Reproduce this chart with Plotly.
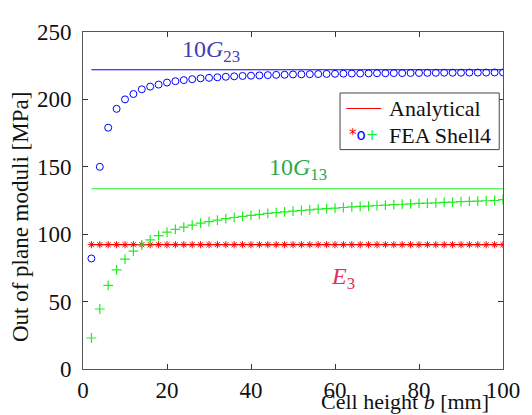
import plotly.graph_objects as go

# Cell height b [mm]
b_mm = list(range(2, 101, 2))

# FEA Shell4 results [MPa]
fea_10G23 = [82, 150, 179, 193, 200, 204, 207.5, 209.5, 211, 212.5,
             213.5, 214.3, 215, 215.6, 216, 216.4, 216.8, 217.1, 217.4, 217.6,
             217.8, 218, 218.2, 218.3, 218.5, 218.6, 218.7, 218.8, 218.9, 219,
             219.1, 219.2, 219.2, 219.3, 219.4, 219.4, 219.5, 219.5, 219.6, 219.6,
             219.7, 219.7, 219.8, 219.8, 219.8, 219.9, 219.9, 219.9, 220, 220]
fea_10G13 = [23, 44.5, 62, 73.5, 81.5, 87.5, 92, 95.8, 99, 101.6,
             103.6, 105.3, 106.8, 108.2, 109.4, 110.5, 111.5, 112.4, 113.2, 114,
             114.7, 115.4, 116, 116.6, 117.1, 117.6, 118.1, 118.6, 119, 119.4,
             119.8, 120.2, 120.6, 120.9, 121.3, 121.6, 121.9, 122.2, 122.5, 122.8,
             123.1, 123.3, 123.6, 123.8, 124.1, 124.3, 124.6, 124.8, 125, 125.6]
fea_E3 = [92.2] * 50

# Analytical values [MPa]
ana_x = [2, 100]
ana_10G23 = 222
ana_10G13 = 133.7
ana_E3 = 92.2

x_ticks = [0, 20, 40, 60, 80, 100]
y_ticks = [0, 50, 100, 150, 200, 250]

BLUE = "#0000ff"
GREEN = "#22ee22"
RED = "#ff0000"
SERIF = "Liberation Serif"

fig = go.Figure()
for val, col in [(ana_10G23, BLUE), (ana_10G13, GREEN), (ana_E3, RED)]:
    fig.add_trace(go.Scatter(x=ana_x, y=[val, val], mode="lines",
                             line=dict(color=col, width=1.2), showlegend=False,
                             hoverinfo="skip"))

fig.add_trace(go.Scatter(x=b_mm, y=fea_E3, mode="markers", showlegend=False,
                         marker=dict(symbol="asterisk-open", size=6, color=RED,
                                     line=dict(color=RED, width=1))))
fig.add_trace(go.Scatter(x=b_mm, y=fea_10G23, mode="markers", showlegend=False,
                         marker=dict(symbol="circle-open", size=7, color=BLUE,
                                     line=dict(color=BLUE, width=1))))
fig.add_trace(go.Scatter(x=b_mm, y=fea_10G13, mode="markers", showlegend=False,
                         marker=dict(symbol="cross-thin-open", size=7, color=GREEN,
                                     line=dict(color=GREEN, width=1.2))))

axis_common = dict(showgrid=False, zeroline=False, showline=True,
                   linecolor="#555555", linewidth=1, mirror="ticks",
                   ticks="inside", ticklen=5, tickcolor="#333333",
                   tickfont=dict(family=SERIF, size=23, color="#111111"))

fig.update_xaxes(range=[0, 100], tickvals=x_ticks, ticklabelstandoff=0,
                 **axis_common)
fig.update_yaxes(range=[0, 250], tickvals=y_ticks, ticklabelstandoff=6,
                 **axis_common)

annotations = [
    dict(x=30.5, y=236, xref="x", yref="y", text="10<i>G</i><sub>23</sub>",
         showarrow=False, font=dict(family=SERIF, size=24, color="#4040b8")),
    dict(x=51.3, y=148.5, xref="x", yref="y", text="10<i>G</i><sub>13</sub>",
         showarrow=False, font=dict(family=SERIF, size=24, color="#30a848")),
    dict(x=62, y=67.5, xref="x", yref="y", text="<i>E</i><sub>3</sub>",
         showarrow=False, font=dict(family=SERIF, size=24, color="#e0305a")),
    dict(x=0.767, y=-0.096, xref="paper", yref="paper",
         text="Cell height <i>b</i> [mm]", showarrow=False,
         xanchor="center", yanchor="middle",
         font=dict(family=SERIF, size=22, color="#111111")),
    dict(x=-0.149, y=0.452, xref="paper", yref="paper",
         text="Out of plane moduli [MPa]", showarrow=False, textangle=-90,
         xanchor="center", yanchor="middle",
         font=dict(family=SERIF, size=23, color="#111111")),
    # manual legend text
    dict(x=0.724, y=0.773, xref="paper", yref="paper", text="Analytical",
         showarrow=False, xanchor="left", yanchor="middle",
         font=dict(family=SERIF, size=22, color="#111111")),
    dict(x=0.724, y=0.694, xref="paper", yref="paper", text="FEA Shell4",
         showarrow=False, xanchor="left", yanchor="middle",
         font=dict(family=SERIF, size=22, color="#111111")),
    dict(x=0.667, y=0.694, xref="paper", yref="paper",
         text=("<span style='color:#ff0000'>*</span>"
               "<span style='color:#0000ff'>o</span>"
               "<span style='color:#22ee22'>+</span>"),
         showarrow=False, xanchor="center", yanchor="middle",
         font=dict(family="DejaVu Sans", size=15)),
]

shapes = [
    dict(type="rect", xref="paper", yref="paper", x0=0.612, x1=0.991,
         y0=0.651, y1=0.819, line=dict(color="#444444", width=1),
         fillcolor="white", layer="above"),
    dict(type="line", xref="paper", yref="paper", x0=0.627, x1=0.710,
         y0=0.773, y1=0.773, line=dict(color=RED, width=1.2), layer="above"),
]

# page body has an 8px margin: shrink the figure and its margins to compensate
fig.update_layout(
    width=524, height=407,
    margin=dict(l=75, r=26, t=12, b=35),
    plot_bgcolor="white", paper_bgcolor="white",
    annotations=annotations, shapes=shapes,
    showlegend=False,
)

fig.write_html("out.html")
